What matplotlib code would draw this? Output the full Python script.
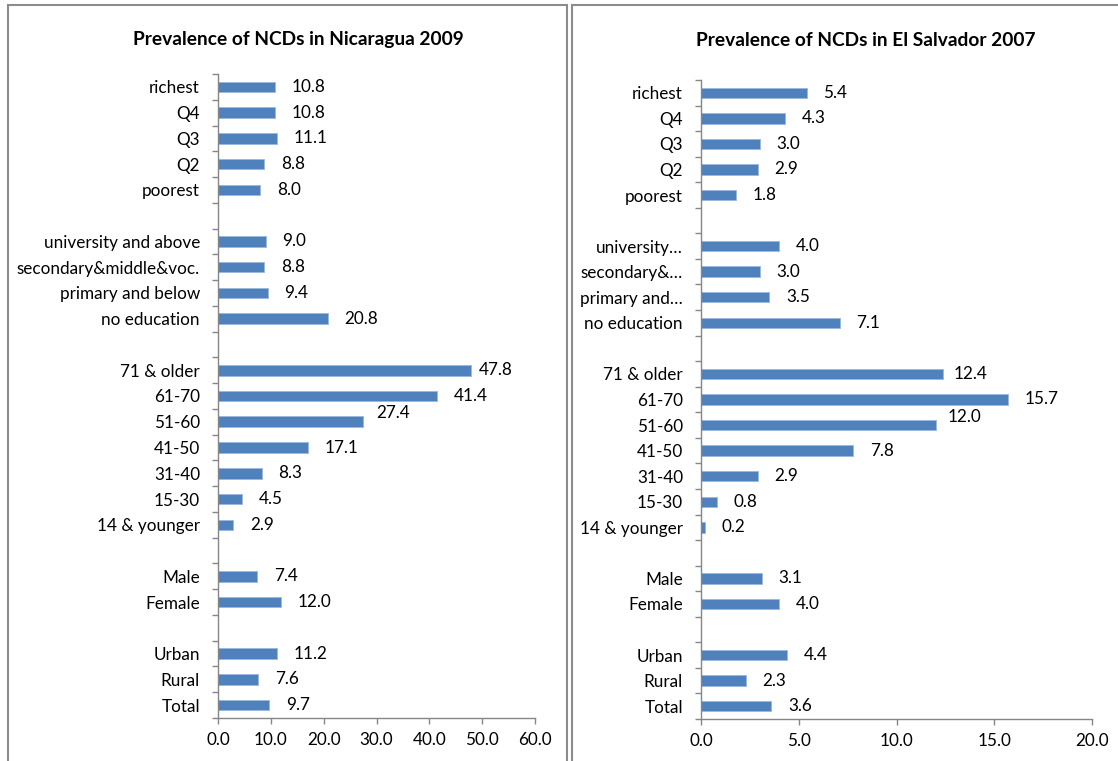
import numpy as np
import matplotlib.pyplot as plt
from matplotlib.patches import Rectangle

plt.rcParams['font.family'] = ['Lato', 'DejaVu Sans']

# categories bottom -> top, '' = spacer row
cats_left = ['Total', 'Rural', 'Urban', '',
             'Female', 'Male', '',
             '14 & younger', '15-30', '31-40', '41-50', '51-60', '61-70', '71 & older', '',
             'no education', 'primary and below', 'secondary&middle&voc.', 'university and above', '',
             'poorest', 'Q2', 'Q3', 'Q4', 'richest']
cats_right = ['Total', 'Rural', 'Urban', '',
              'Female', 'Male', '',
              '14 & younger', '15-30', '31-40', '41-50', '51-60', '61-70', '71 & older', '',
              'no education', 'primary and\u2026', 'secondary&\u2026', 'university\u2026', '',
              'poorest', 'Q2', 'Q3', 'Q4', 'richest']

nic_vals = [9.7, 7.6, 11.2, None,
            12.0, 7.4, None,
            2.9, 4.5, 8.3, 17.1, 27.4, 41.4, 47.8, None,
            20.8, 9.4, 8.8, 9.0, None,
            8.0, 8.8, 11.1, 10.8, 10.8]
slv_vals = [3.6, 2.3, 4.4, None,
            4.0, 3.1, None,
            0.2, 0.8, 2.9, 7.8, 12.0, 15.7, 12.4, None,
            7.1, 3.5, 3.0, 4.0, None,
            1.8, 2.9, 3.0, 4.3, 5.4]

title_left = 'Prevalence of NCDs in Nicaragua 2009'
title_right = 'Prevalence of NCDs in El Salvador 2007'

bar_col = '#4F81BD'
axis_col = '#868686'
fs = 12.3

fig = plt.figure(figsize=(11.18, 7.61), dpi=100)

# panel frames
fig.patches.append(Rectangle((8/1118, -0.01), (567-8)/1118, 1.0-5/761+0.01,
                             transform=fig.transFigure, fill=False,
                             edgecolor='#8c8c8c', linewidth=1.5))
fig.patches.append(Rectangle((572/1118, -0.01), (1125-572)/1118, 1.0-5/761+0.01,
                             transform=fig.transFigure, fill=False,
                             edgecolor='#8c8c8c', linewidth=1.5))


def draw_panel(rect, cats, vals, xmax, xstep, title, title_x, nudges):
    ax = fig.add_axes(rect)
    y = np.arange(len(cats))
    v = np.array([np.nan if a is None else a for a in vals], dtype=float)
    ax.barh(y, np.nan_to_num(v), height=0.41, color=bar_col,
            edgecolor='#9bb7dc', linewidth=0.6)
    for i, val in enumerate(vals):
        if val is None:
            continue
        dx, dy = nudges.get(i, (0, 0))
        ax.annotate('%.1f' % val, (val, i), xytext=(12 + dx, dy),
                    textcoords='offset points', ha='left', va='center',
                    fontsize=fs)
    ax.set_ylim(-0.5, len(cats) - 0.5)
    ax.set_xlim(0, xmax)
    ax.set_yticks(y)
    ax.set_yticklabels(cats, fontsize=fs)
    ax.set_yticks(np.arange(-0.5, len(cats), 1), minor=True)
    ax.tick_params(axis='y', which='major', length=0, pad=13)
    ax.tick_params(axis='y', which='minor', length=4, color=axis_col, width=1)
    ticks = np.arange(0, xmax + 0.01, xstep)
    ax.set_xticks(ticks)
    ax.set_xticklabels(['%.1f' % t for t in ticks], fontsize=fs)
    ax.tick_params(axis='x', length=4, color=axis_col, width=1, pad=6)
    for s in ['top', 'right']:
        ax.spines[s].set_visible(False)
    for s in ['left', 'bottom']:
        ax.spines[s].set_color(axis_col)
        ax.spines[s].set_linewidth(1)
    fig.text(title_x, 1 - 40/761, title, ha='center', va='center',
             fontsize=13.8, fontweight='bold')
    return ax


draw_panel([218/1118, 1 - 718/761, (535-218)/1118, (718-74)/761],
           cats_left, nic_vals, 60, 10, title_left, 298/1118,
           {13: (-6, 0), 11: (-2, 6)})
draw_panel([701/1118, 1 - 719/761, (1092-701)/1118, (719-80)/761],
           cats_right, slv_vals, 20, 5, title_right, 866/1118,
           {13: (-5, 0), 11: (-3, 6)})

fig.savefig('out.png', dpi=100)
